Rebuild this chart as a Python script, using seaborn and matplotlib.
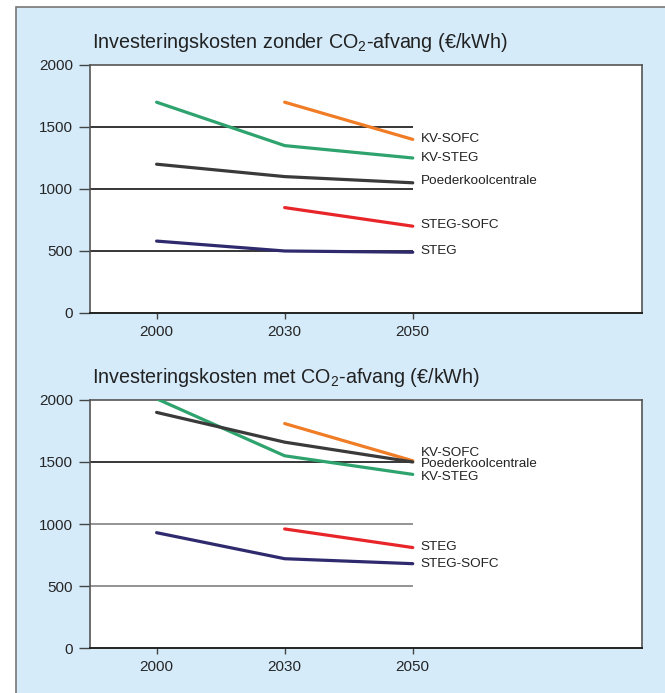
import numpy as np
import pandas as pd
import matplotlib.pyplot as plt
from matplotlib.patches import Rectangle
import seaborn as sns

sns.set_style('white')
plt.rcParams['font.family'] = ['Liberation Sans', 'DejaVu Sans']
plt.rcParams['mathtext.fontset'] = 'custom'
plt.rcParams['mathtext.rm'] = 'Liberation Sans'

years = ['2000', '2030', '2050']
series = ['KV-SOFC', 'KV-STEG', 'Poederkoolcentrale', 'STEG-SOFC', 'STEG']
colors = ['#F07D26', '#2EA36E', '#3A3A3A', '#E8262A', '#2F2A6E']

# zonder CO2-afvang (NaN = geen waarde)
zonder_kvsofc = [np.nan, 1700, 1400]
zonder_kvsteg = [1700, 1350, 1250]
zonder_poeder = [1200, 1100, 1050]
zonder_stegsofc = [np.nan, 850, 700]
zonder_steg = [580, 500, 490]

# met CO2-afvang
met_kvsofc = [np.nan, 1810, 1510]
met_kvsteg = [2010, 1550, 1400]
met_poeder = [1900, 1660, 1500]
met_steg = [np.nan, 960, 810]
met_stegsofc = [930, 720, 680]

# label names / order per panel (lower panel swaps STEG colours)
labels_top = ['KV-SOFC', 'KV-STEG', 'Poederkoolcentrale', 'STEG-SOFC', 'STEG']
labels_bot = ['KV-SOFC', 'KV-STEG', 'Poederkoolcentrale', 'STEG', 'STEG-SOFC']
label_shift_top = [0, 0, 15, 10, 10]
label_shift_bot = [60, -20, -16, 5, -3]


def to_long(vals, names):
    rows = []
    for name, v in zip(names, vals):
        for i, y in enumerate(v):
            if not np.isnan(y):
                rows.append({'pos': i, 'value': y, 'serie': name})
    return pd.DataFrame(rows)


df_top = to_long([zonder_kvsofc, zonder_kvsteg, zonder_poeder, zonder_stegsofc, zonder_steg], labels_top)
df_bot = to_long([met_kvsofc, met_kvsteg, met_poeder, met_steg, met_stegsofc], labels_bot)

fig = plt.figure(figsize=(6.65, 6.93), dpi=100)
fig.patch.set_facecolor('white')
fig.patches.append(Rectangle((16 / 665, -0.01), 1.0, 1 - 7 / 693 + 0.01, transform=fig.transFigure,
                             facecolor='#D5EBFA', edgecolor='#777777', linewidth=1.2, zorder=-10))

ax1 = fig.add_axes([90 / 665, 1 - 313 / 693, 552 / 665, 248 / 693])
ax2 = fig.add_axes([90 / 665, 1 - 648 / 693, 552 / 665, 248 / 693])

panels = [
    (ax1, df_top, labels_top, label_shift_top, 'Investeringskosten zonder CO$_2$-afvang (€/kWh)', ['black'] * 3),
    (ax2, df_bot, labels_bot, label_shift_bot, 'Investeringskosten met CO$_2$-afvang (€/kWh)', ['#777777', '#777777', 'black']),
]

for ax, df, names, shifts, title, gridcols in panels:
    ax.set_facecolor('white')
    ax.hlines([500, 1000, 1500], -0.52, 2, colors=gridcols, linewidth=1.1, zorder=1)
    sns.lineplot(data=df, x='pos', y='value', hue='serie', hue_order=names,
                 palette=dict(zip(names, colors)), linewidth=2.3, legend=False, ax=ax, zorder=3)
    for name, sh in zip(names, shifts):
        last = df[df.serie == name].value.iloc[-1]
        ax.text(2.06, last + sh, name, fontsize=9.7, va='center', ha='left', color='#222222')
    ax.set_xlim(-0.52, 3.79)
    ax.set_ylim(0, 2000)
    ax.set_xticks([0, 1, 2])
    ax.set_xticklabels(years)
    ax.set_yticks([0, 500, 1000, 1500, 2000])
    ax.set_xlabel('')
    ax.set_ylabel('')
    ax.tick_params(axis='y', direction='out', length=8, width=1, color='#444444', labelsize=11, pad=4, left=True)
    ax.tick_params(axis='x', direction='out', length=4.5, width=1, color='#444444', labelsize=11, pad=4, bottom=True)
    for s in ['left', 'right', 'top']:
        ax.spines[s].set_color('#555555')
        ax.spines[s].set_linewidth(1.2)
    ax.spines['bottom'].set_color('#222222')
    ax.spines['bottom'].set_linewidth(1.4)
    ax.set_title(title, loc='left', fontsize=14.2, pad=12, x=0.004, color='#222222')

fig.savefig('out.png', dpi=100)
